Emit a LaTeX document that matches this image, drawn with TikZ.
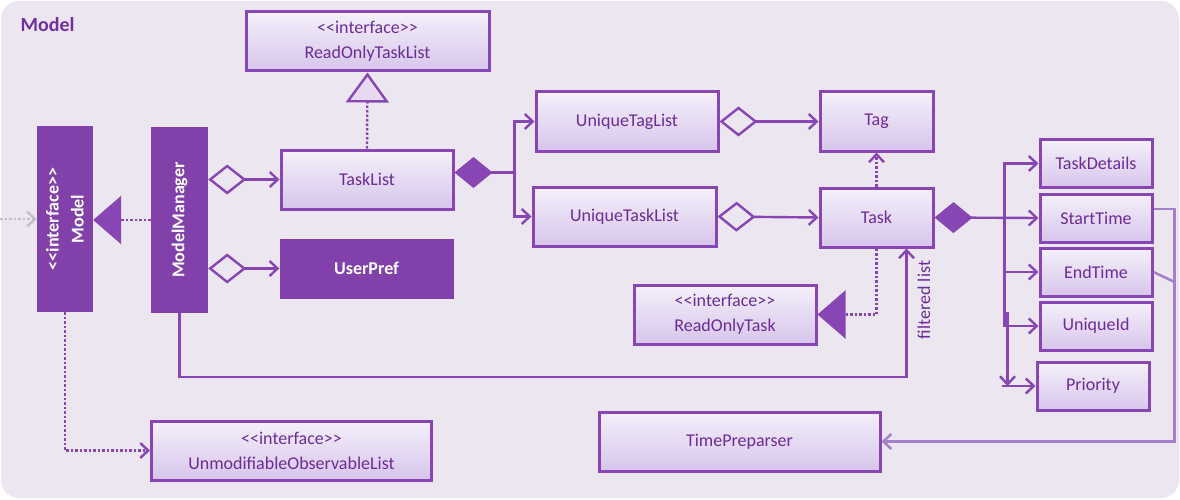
\documentclass[tikz,border=0pt]{standalone}
\usepackage{fontspec}
\newfontfamily\umlfont{Carlito}
\newcommand\umlsize{\umlfont\fontsize{18}{25}\selectfont}
\usetikzlibrary{arrows.meta}
\definecolor{bgpanel}{HTML}{ECE6F0}
\definecolor{umldark}{HTML}{8241AA}
\definecolor{umlline}{HTML}{8746B4}
\definecolor{umltext}{HTML}{6C2C96}
\definecolor{titletext}{HTML}{7030A0}
\definecolor{boxtop}{HTML}{F4F0FA}
\definecolor{boxbot}{HTML}{D7C5EB}
\definecolor{boxmid}{HTML}{E6DAF3}
\definecolor{faintline}{HTML}{A47FCB}
\definecolor{greyline}{HTML}{C4C0C6}

\begin{document}
\begin{tikzpicture}[
  x=1pt,
  y=-1pt,
  >={Straight Barb[length=8pt,width=15pt]},
  cls/.style={
    draw=umlline,
    line width=3pt,
    top color=boxtop,
    bottom color=boxbot,
    text=umltext,
    font=\umlsize,
    inner sep=0pt,
    minimum height=59pt,
    align=center
  },
  field/.style={cls,minimum width=112pt,minimum height=48pt},
  solidbox/.style={
    fill=umldark,
    text=white,
    font=\umlsize\bfseries,
    inner sep=0pt,
    align=center
  },
  link/.style={umlline,line width=2.4pt},
  dots/.style={link,dash pattern=on 2.5pt off 2pt}
]
  \useasboundingbox (0,0) rectangle (1180,500);
  \fill[bgpanel,rounded corners=18pt] (1,1) rectangle (1179,498);
  \node[anchor=west,text=titletext,font=\umlfont\fontsize{20}{24}\selectfont\bfseries]
    (title) at (17,25) {Model};

  \node[solidbox,rotate=90,minimum width=186pt,minimum height=56pt] (model) at (65,219)
    {<<interface>>\\Model};
  \node[solidbox,rotate=90,minimum width=186pt,minimum height=57pt] (manager) at (179.5,220)
    {ModelManager};
  \node[cls,minimum width=243pt] (readonlylist) at (367.5,41.5) {<<interface>>\\ReadOnlyTaskList};
  \node[cls,minimum width=172pt] (tasklist) at (367,179.5) {TaskList};
  \node[solidbox,minimum width=174pt,minimum height=60pt] (userpref) at (366.5,268.5) {UserPref};
  \node[cls,minimum width=182pt] (uniquetags) at (627,121.5) {UniqueTagList};
  \node[cls,minimum width=183pt] (uniquetasks) at (624.5,216.5) {UniqueTaskList};
  \node[cls,minimum width=113pt] (tag) at (876.5,121.5) {Tag};
  \node[cls,minimum width=113pt] (task) at (876.5,217.5) {Task};
  \node[cls,minimum width=182pt] (readonlytask) at (725,314.5) {<<interface>>\\ReadOnlyTask};
  \node[field] (details) at (1096,163.5) {TaskDetails};
  \node[field] (start) at (1096,218) {StartTime};
  \node[field] (end) at (1096,272) {EndTime};
  \node[field] (uid) at (1096,326) {UniqueId};
  \node[field] (priority) at (1093,386) {Priority};
  \node[cls,minimum width=281pt] (preparser) at (739.5,441.5) {TimePreparser};
  \node[cls,minimum width=280pt] (observable) at (291.5,450.5)
    {<<interface>>\\UnmodifiableObservableList};

  \coordinate (outside) at (0,219);
  \draw[greyline,line width=2.4pt,dash pattern=on 2.5pt off 2pt,->] (outside) -- (model.north);
  \draw[dots,-{Triangle[length=28pt,width=48pt]}] (manager.north) -- (manager.north -| model.south);
  \draw[dots,-{Triangle[length=30pt,width=43pt,fill=boxmid]}] (tasklist.north) -- (readonlylist.south);
  \draw[link,{Diamond[open,length=38pt,width=30pt]}->] (manager.south |- tasklist.west) -- (tasklist.west);
  \draw[link,{Diamond[open,length=38pt,width=30pt]}->] (manager.south |- userpref.west) -- (userpref.west);
  \draw[link,{Diamond[length=38pt,width=31pt]}-] ([yshift=7pt]tasklist.east) -- ++(60,0) coordinate (fork);
  \draw[link,->] (fork) |- (uniquetags.west);
  \draw[link,->] (fork) |- (uniquetasks.west);
  \draw[link,{Diamond[open,length=38pt,width=30pt]}->] (uniquetags.east) -- (tag.west);
  \draw[link,{Diamond[open,length=38pt,width=30pt]}->] (uniquetasks.east) -- (task.west);
  \draw[dots,->] (task.north) -- (tag.south);
  \draw[dots,-{Triangle[length=28pt,width=48pt]}] (task.south) |- (readonlytask.east);
  \draw[link,->] (manager.west) -- ++(0,64) -| ([xshift=30pt]task.south)
    node[pos=0.8,rotate=90,anchor=north,inner sep=10pt,text=umltext,font=\umlsize] (filtered) {filtered list};
  \draw[dots,->] (model.west) |- (observable.west);

  \draw[link,{Diamond[length=38pt,width=31pt]}->] (task.east) -- (start.west);
  \draw[link,->] ([xshift=-34pt]start.west) |- (details.west);
  \draw[link,->] ([xshift=-34pt]start.west) |- (end.west);
  \draw[link,->] ([xshift=-34pt]start.west) |- (uid.west);
  \draw[link,->] ([shift={(-31,-14)}]uid.west) -- ([xshift=-28pt]priority.west);
  \draw[link,->] ([xshift=-34pt]priority.west) -- (priority.west);
  \draw[faintline,line width=2.5pt,->] ([yshift=9pt]start.east) -- ++(21,0) |- (preparser.east);
  \draw[faintline,line width=2.5pt] (end.east) -- ++(21,10);
\end{tikzpicture}
\end{document}
